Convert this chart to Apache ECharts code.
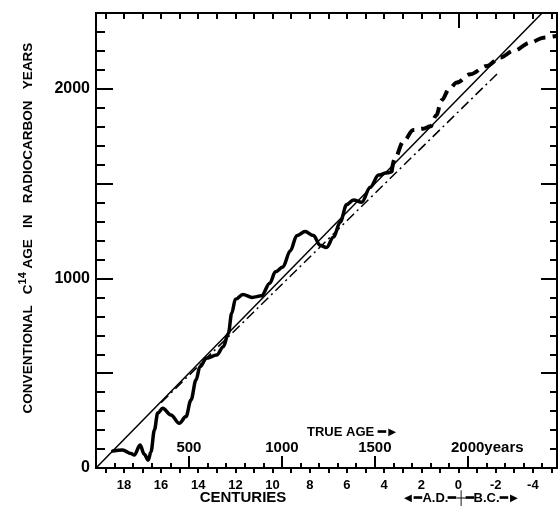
<!DOCTYPE html>
<html><head><meta charset="utf-8">
<script src="https://cdn.jsdelivr.net/npm/echarts@6/dist/echarts.min.js"></script>
<style>html,body{margin:0;padding:0;background:#fff}#c{width:559px;height:514px}</style>
</head><body><div id="c"></div>
<script>
// ---- data (true age in years, conventional C14 age in radiocarbon years) ----
const radiocarbonLabels = [0, 1000, 2000];
const trueAgeLabels = [500, 1000, 1500, 2000];
const centuryLabels = [18, 16, 14, 12, 10, 8, 6, 4, 2, 0, -2, -4];
const centuryTicks = [19, 18, 17, 16, 15, 14, 13, 12, 11, 10, 9, 8, 7, 6, 5, 4, 3, 2, 1, 0, -1, -2, -3, -4, -5];
const measuredCurve = [
  [90, 90], [143, 95], [188, 76], [206, 68], [237, 121], [260, 72], [281, 42], [296, 86],
  [314, 200], [332, 290], [359, 315], [403, 280], [448, 236], [484, 271], [511, 359],
  [538, 464], [559, 534], [595, 579], [649, 596], [685, 640], [712, 710], [730, 816],
  [750, 890], [790, 915], [840, 900], [890, 908], [935, 975], [965, 1035], [1005, 1060],
  [1045, 1145], [1080, 1225], [1125, 1247], [1170, 1226], [1205, 1175], [1240, 1163],
  [1278, 1218], [1313, 1296], [1349, 1390], [1385, 1414], [1430, 1402], [1475, 1481],
  [1520, 1545], [1560, 1556], [1590, 1562]
];
const extrapolatedCurve = [
  [1590, 1562], [1608, 1634], [1653, 1721], [1707, 1783], [1760, 1790], [1800, 1802],
  [1830, 1860], [1860, 1940], [1900, 2000], [1941, 2033], [2013, 2077], [2103, 2121],
  [2174, 2165], [2246, 2200], [2336, 2244], [2407, 2270], [2480, 2280]
];
const equalAgeLine = [[0, 0], [2400, 2400]];
const dashDotLine = [[350, 345], [2165, 2086]];

const FONT = 'Liberation Sans';
const line = {show: true, onZero: false, lineStyle: {color: '#000', width: 2}};
const noSplit = {show: false};
const tickI = (len, inside) => ({show: true, inside: inside, length: len, lineStyle: {color: '#000', width: 2}});
const tickC = (vals, len, inside) => ({show: true, inside: inside, length: len, customValues: vals, lineStyle: {color: '#000', width: 2}});
const noLabel = {show: false};

const chart = echarts.init(document.getElementById('c'), null, {renderer: 'canvas'});
chart.setOption({
  animation: false,
  backgroundColor: '#fff',
  grid: {left: 96, top: 13, right: 2, bottom: 46},
  xAxis: [
    {type: 'value', min: 0, max: 2480, interval: 100, position: 'bottom', axisLine: line, splitLine: noSplit,
     axisTick: tickI(5, true), axisLabel: noLabel},
    {type: 'value', min: 0, max: 2480, interval: 500, position: 'bottom', axisLine: line, splitLine: noSplit,
     axisTick: tickI(12, true),
     axisLabel: {show: true, inside: true, margin: 13, customValues: trueAgeLabels,
       fontFamily: FONT, fontSize: 15, fontWeight: 'bold', color: '#000',
       formatter: v => v === 2000 ? '{sp|}{n|2000}{y|years}' : '{n|' + v + '}',
       rich: {sp: {width: 39}, n: {fontFamily: FONT, fontSize: 15, fontWeight: 'bold', color: '#000'},
              y: {fontFamily: FONT, fontSize: 15, fontWeight: 'bold', color: '#000'}}}},
    {type: 'value', min: -5.3, max: 19.5, inverse: true, position: 'bottom', axisLine: line, splitLine: noSplit,
     axisTick: tickC(centuryTicks, 5, false),
     axisLabel: {show: true, margin: 11, customValues: centuryLabels, fontFamily: FONT, fontSize: 13,
       fontWeight: 'bold', color: '#000', formatter: v => String(v)}},
    {type: 'value', min: -5.3, max: 19.5, inverse: true, position: 'top', axisLine: line, splitLine: noSplit,
     axisTick: tickC(centuryTicks, 6, true), axisLabel: noLabel},
    {type: 'value', min: -5.3, max: 19.5, inverse: true, position: 'top', axisLine: line, splitLine: noSplit,
     axisTick: tickC([0], 15, true), axisLabel: noLabel}
  ],
  yAxis: [
    {type: 'value', min: 0, max: 2400, interval: 100, position: 'left', axisLine: line, splitLine: noSplit,
     axisTick: tickI(9, true), axisLabel: noLabel},
    {type: 'value', min: 0, max: 2400, interval: 500, position: 'left', axisLine: line, splitLine: noSplit,
     axisTick: tickI(17, true),
     axisLabel: {show: true, margin: 6, customValues: radiocarbonLabels, fontFamily: FONT, fontSize: 16,
       fontWeight: 'bold', color: '#000', formatter: v => String(v)}},
    {type: 'value', min: 0, max: 2400, interval: 100, position: 'right', axisLine: line, splitLine: noSplit,
     axisTick: tickI(7, true), axisLabel: noLabel},
    {type: 'value', min: 0, max: 2400, interval: 500, position: 'right', axisLine: line, splitLine: noSplit,
     axisTick: tickI(16, true), axisLabel: noLabel}
  ],
  series: [
    {type: 'line', data: equalAgeLine, symbol: 'none', silent: true,
     lineStyle: {color: '#000', width: 1.5}},
    {type: 'line', data: dashDotLine, symbol: 'none', silent: true,
     lineStyle: {color: '#000', width: 1.5, type: [10, 4, 2, 4]}},
    {type: 'line', data: measuredCurve, symbol: 'none', smooth: 0.35, smoothMonotone: 'x', silent: true,
     lineStyle: {color: '#000', width: 3.5, cap: 'round', join: 'round'}},
    {type: 'line', data: extrapolatedCurve, symbol: 'none', smooth: 0.35, smoothMonotone: 'x', silent: true,
     lineStyle: {color: '#000', width: 4, type: [12, 7]}}
  ],
  graphic: [
    {type: 'text', x: 28, y: 228, rotation: Math.PI / 2,
     style: {text: 'CONVENTIONAL   C{sup|14} AGE   IN   RADIOCARBON   YEARS', fontFamily: FONT, fontSize: 13.5,
       fontWeight: 'bold', fill: '#000', align: 'center', verticalAlign: 'middle',
       rich: {sup: {fontFamily: FONT, fontSize: 11, fontWeight: 'bold', fill: '#000', padding: [0, 0, 11, 0]}}}},
    {type: 'text', x: 307, y: 432,
     style: {text: 'TRUE AGE ━►', fontFamily: FONT, fontSize: 13, fontWeight: 'bold', fill: '#000',
       align: 'left', verticalAlign: 'middle'}},
    {type: 'text', x: 243, y: 498,
     style: {text: 'CENTURIES', fontFamily: FONT, fontSize: 15, fontWeight: 'bold', fill: '#000',
       align: 'center', verticalAlign: 'middle'}},
    {type: 'text', x: 461, y: 498,
     style: {text: '◄━A.D.━┼━B.C.━►', fontFamily: FONT, fontSize: 13, fontWeight: 'bold', fill: '#000',
       align: 'center', verticalAlign: 'middle'}}
  ]
});
</script></body></html>
